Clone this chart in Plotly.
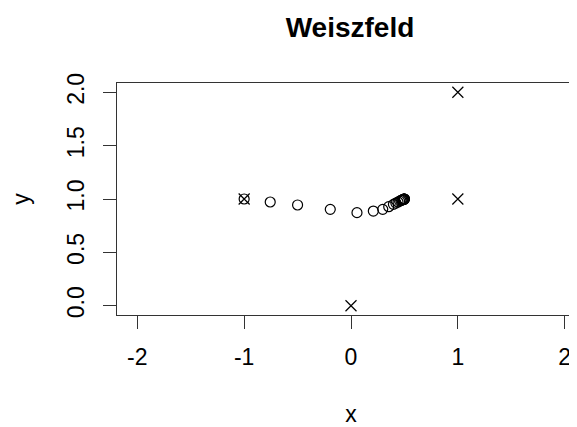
import plotly.graph_objects as go

# Fixed data points (marked with x)
pts_x = [-1, 1, 1, 0]
pts_y = [1, 2, 1, 0]

# Weiszfeld iterates (circles)
iter_x = [-1.0, -0.756, -0.5, -0.194, 0.056, 0.209, 0.297, 0.353, 0.397, 0.420,
          0.440, 0.455, 0.467, 0.476, 0.483, 0.488, 0.492, 0.495, 0.497, 0.498, 0.499, 0.5]
iter_y = [1.0, 0.972, 0.944, 0.903, 0.872, 0.887, 0.903, 0.928, 0.950, 0.962,
          0.972, 0.980, 0.986, 0.990, 0.993, 0.995, 0.997, 0.998, 0.999, 0.999, 1.0, 1.0]

x_ticks = [-2, -1, 0, 1, 2]
x_ticktext = ["-2", "-1", "0", "1", "2"]
y_ticks = [0, 0.5, 1.0, 1.5, 2.0]
y_ticktext = ["0.0", "0.5", "1.0", "1.5", "2.0"]

FONT = "Liberation Sans, Arial, sans-serif"

fig = go.Figure()
fig.add_trace(go.Scatter(
    x=pts_x, y=pts_y, mode="markers",
    marker=dict(symbol="x-thin", size=11, line=dict(color="black", width=1.2)),
    showlegend=False, hoverinfo="skip"))
fig.add_trace(go.Scatter(
    x=iter_x, y=iter_y, mode="markers",
    marker=dict(symbol="circle-open", size=10, color="black", line=dict(color="black", width=1.2)),
    showlegend=False, hoverinfo="skip"))

fig.update_layout(
    width=577, height=427,
    margin=dict(l=109, r=0, t=75, b=120, pad=0),
    paper_bgcolor="white", plot_bgcolor="white",
    font=dict(family=FONT, color="black", size=23),
    title=dict(text="<b>Weiszfeld</b>", x=342/577, xanchor="center",
               y=1 - 19/427, yanchor="middle", font=dict(size=28, family=FONT)),
    xaxis=dict(range=[-2.19, 2.19], tickvals=x_ticks, ticktext=x_ticktext,
               ticks="outside", ticklen=13,
               tickcolor="#333", showline=True, linecolor="#333", linewidth=1, mirror=True,
               showgrid=False, zeroline=False, ticklabelstandoff=8,
               title=dict(text="x", standoff=37, font=dict(size=23))),
    yaxis=dict(range=[-0.087, 2.087], tickvals=y_ticks, ticktext=y_ticktext,
               ticks="outside", ticklen=13, tickcolor="#333", tickangle=-90,
               showline=True, linecolor="#333", linewidth=1, mirror=False,
               showgrid=False, zeroline=False, ticklabelstandoff=10,
               title=dict(text="y", standoff=36, font=dict(size=23))),
)

fig.write_html("out.html")
